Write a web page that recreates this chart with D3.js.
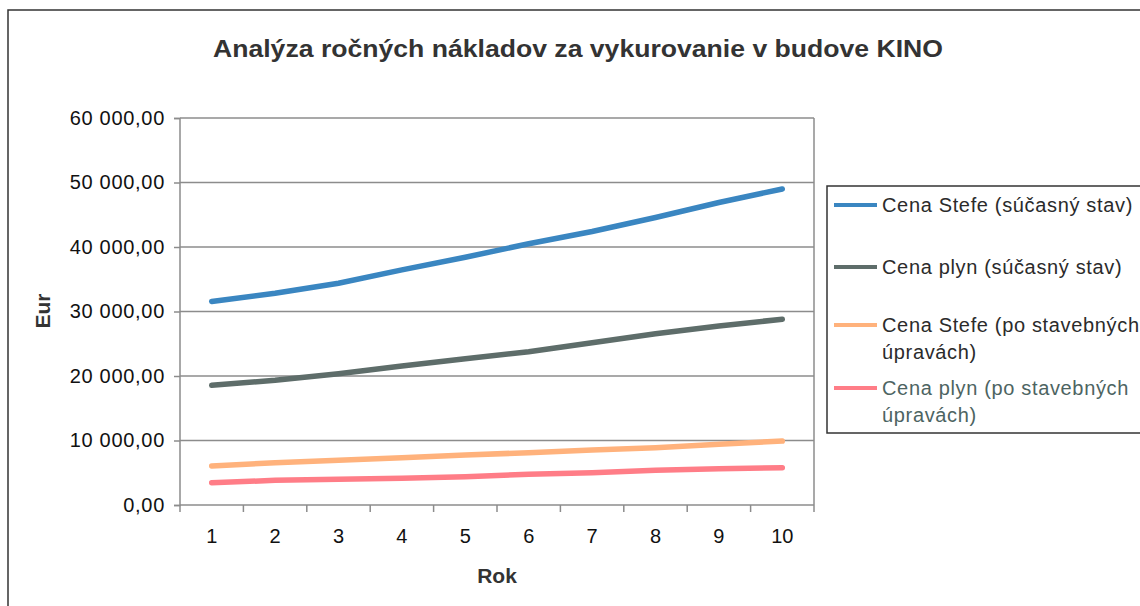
<!DOCTYPE html>
<html>
<head>
<meta charset="utf-8">
<script src="https://cdn.jsdelivr.net/npm/d3@7"></script>
<style>
  body { margin: 0; background: #fff; }
  svg { font-family: "Liberation Sans", Arial, sans-serif; }
</style>
</head>
<body>
<svg id="canvas"></svg>
<script>
let years = [1, 2, 3, 4, 5, 6, 7, 8, 9, 10]
let stefeNow = [31550, 32840, 34390, 36460, 38420, 40500, 42400, 44570, 46900, 49000]
let plynNow = [18550, 19330, 20360, 21550, 22690, 23770, 25170, 26560, 27750, 28810]
let stefeAfter = [6050, 6560, 6930, 7340, 7750, 8110, 8530, 8890, 9400, 9920]
let plynAfter = [3460, 3820, 3980, 4130, 4390, 4750, 5010, 5370, 5630, 5790]
let seriesNames = ["Cena Stefe (súčasný stav)", "Cena plyn (súčasný stav)", "Cena Stefe (po stavebných úpravách)", "Cena plyn (po stavebných úpravách)"]
let yTicks = [0, 10000, 20000, 30000, 40000, 50000, 60000]

let width = 1140
let height = 606

let series = [
    { name: seriesNames[0], values: stefeNow, color: "#3a86c1", text: "#2b2b2b", lines: ["Cena Stefe (súčasný stav)"] },
    { name: seriesNames[1], values: plynNow, color: "#5e6d6a", text: "#2b2b2b", lines: ["Cena plyn (súčasný stav)"] },
    { name: seriesNames[2], values: stefeAfter, color: "#ffb27c", text: "#2b2b2b", lines: ["Cena Stefe (po stavebných", "úpravách)"] },
    { name: seriesNames[3], values: plynAfter, color: "#ff7d87", text: "#4d6462", lines: ["Cena plyn (po stavebných", "úpravách)"] }
]

let svg = d3.select("#canvas")
    .attr("width", width)
    .attr("height", height)

// outer frame
svg.append("path")
    .attr("d", "M8,606 L8,10 L1140,10")
    .attr("fill", "none")
    .attr("stroke", "#333")
    .attr("stroke-width", 1.5)

let xScale = d3.scaleBand()
    .domain(years)
    .range([180, 814])

let yScale = d3.scaleLinear()
    .domain([0, 60000])
    .range([505, 118])

let locale = d3.formatLocale({ decimal: ",", thousands: " ", grouping: [3], currency: ["", ""] })
let fmt = locale.format(",.2f")

// gridlines
svg.append("g")
    .selectAll("line")
    .data(yTicks.slice(1))
    .enter()
    .append("line")
    .attr("x1", 180)
    .attr("x2", 814)
    .attr("y1", d => yScale(d))
    .attr("y2", d => yScale(d))
    .attr("stroke", "#8c8c8c")
    .attr("stroke-width", 1.5)

// right border of plot area
svg.append("line")
    .attr("x1", 814).attr("x2", 814)
    .attr("y1", 118).attr("y2", 505)
    .attr("stroke", "#8c8c8c")
    .attr("stroke-width", 1.5)

let yAxis = d3.axisLeft(yScale)
    .tickValues(yTicks)
    .tickFormat(fmt)
    .tickSize(6)
    .tickPadding(9)

let yg = svg.append("g")
    .attr("transform", "translate(180,0)")
    .call(yAxis)
yg.selectAll("path, line").attr("stroke", "#8c8c8c").attr("stroke-width", 1.5)
yg.select(".domain").attr("d", "M-6,118.5H0V505.5H-6")
yg.selectAll("text")
    .attr("font-size", 20)
    .attr("letter-spacing", 0.7)
    .attr("fill", "#111")
    .attr("font-family", "Liberation Sans, Arial, sans-serif")

let xAxis = d3.axisBottom(xScale)
    .tickSize(0)
    .tickPadding(24)

let xg = svg.append("g")
    .attr("transform", "translate(0,505)")
    .call(xAxis)
xg.select(".domain").attr("stroke", "#8c8c8c").attr("stroke-width", 1.5).attr("d", "M180,0H814")
xg.selectAll("text")
    .attr("font-size", 20)
    .attr("fill", "#111")
    .attr("font-family", "Liberation Sans, Arial, sans-serif")

// category boundary ticks
xg.selectAll(".bound")
    .data(years.concat([null]))
    .enter()
    .append("line")
    .attr("class", "bound")
    .attr("x1", (d, i) => xScale.range()[0] + i * xScale.step())
    .attr("x2", (d, i) => xScale.range()[0] + i * xScale.step())
    .attr("y1", 0)
    .attr("y2", 7)
    .attr("stroke", "#8c8c8c")
    .attr("stroke-width", 1.5)

let line = d3.line()
    .x((d, i) => xScale(years[i]) + xScale.bandwidth() / 2)
    .y(d => yScale(d))

svg.append("g")
    .selectAll("path")
    .data(series)
    .enter()
    .append("path")
    .attr("d", d => line(d.values))
    .attr("fill", "none")
    .attr("stroke", d => d.color)
    .attr("stroke-width", 5.5)
    .attr("stroke-linecap", "round")

// title
svg.append("text")
    .attr("x", 578)
    .attr("y", 57)
    .attr("text-anchor", "middle")
    .attr("font-size", 23)
    .attr("font-weight", "bold")
    .attr("fill", "#333")
    .attr("textLength", 730)
    .attr("lengthAdjust", "spacingAndGlyphs")
    .text("Analýza ročných nákladov za vykurovanie v budove KINO")

// axis titles
svg.append("text")
    .attr("x", 497)
    .attr("y", 583)
    .attr("text-anchor", "middle")
    .attr("font-size", 21)
    .attr("font-weight", "bold")
    .attr("fill", "#333")
    .text("Rok")

svg.append("text")
    .attr("transform", "translate(50,311) rotate(-90)")
    .attr("text-anchor", "middle")
    .attr("font-size", 21)
    .attr("font-weight", "bold")
    .attr("fill", "#333")
    .text("Eur")

// legend
let legend = svg.append("g")
legend.append("rect")
    .attr("x", 827)
    .attr("y", 186)
    .attr("width", 330)
    .attr("height", 247)
    .attr("fill", "#fff")
    .attr("stroke", "#333")
    .attr("stroke-width", 1.5)

let rowY = [205, 267, 325, 388]

let items = legend.selectAll(".item")
    .data(series)
    .enter()
    .append("g")
    .attr("class", "item")
    .attr("transform", (d, i) => "translate(0," + rowY[i] + ")")

items.append("line")
    .attr("x1", 834).attr("x2", 877)
    .attr("y1", 0).attr("y2", 0)
    .attr("stroke", d => d.color)
    .attr("stroke-width", 4)

items.each(function (d) {
    let t = d3.select(this).append("text")
        .attr("class", "legtext")
        .attr("x", 882)
        .attr("y", 7)
        .attr("font-size", 20)
        .attr("fill", d.text)
    d.lines.forEach((s, j) => {
        t.append("tspan")
            .attr("x", 882)
            .attr("dy", j === 0 ? 0 : 27)
            .text(s)
    })
})

// stretch legend lettering so the first entry is as wide as in the original (about 251px)
let first = legend.select(".legtext").node()
let baseW = first.getComputedTextLength()
let ls = Math.max(0, (251 - baseW) / seriesNames[0].length)
legend.selectAll(".legtext").attr("letter-spacing", ls)
</script>
</body>
</html>
